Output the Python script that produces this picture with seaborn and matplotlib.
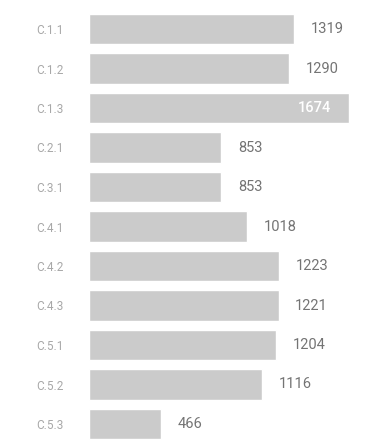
import matplotlib
matplotlib.use("Agg")
import matplotlib.pyplot as plt
import seaborn as sns
import pandas as pd

categories = ["C.1.1", "C.1.2", "C.1.3", "C.2.1", "C.3.1", "C.4.1",
              "C.4.2", "C.4.3", "C.5.1", "C.5.2", "C.5.3"]
values = [1319, 1290, 1674, 853, 853, 1018, 1223, 1221, 1204, 1116, 466]
highlight = "C.1.3"

sns.set_theme(style="white")
plt.rcParams["font.family"] = ["Roboto", "DejaVu Sans"]

df = pd.DataFrame({"category": categories, "value": values})

fig = plt.figure(figsize=(3.66, 4.42), dpi=100)
ax = fig.add_axes([89 / 366, 0, 1 - 89 / 366, 1])

sns.barplot(data=df, x="value", y="category", orient="h", color="#cbcbcb",
            saturation=1, width=0.76, ax=ax)

# px per unit: 260 px for the longest bar
xmax = max(values) * (366 - 89) / 260
ax.set_xlim(0, xmax)
row = 39.5
ax.set_ylim(len(categories) - 1 + (442 - 424) / row, -29 / row)

for i, (cat, v) in enumerate(zip(categories, values)):
    if cat == highlight:
        ax.annotate(f"{v}", xy=(v, i), xytext=(-13, 0), textcoords="offset points",
                    ha="right", va="center", color="white", fontsize=10.5,
                    fontweight="medium")
    else:
        ax.annotate(f"{v}", xy=(v, i), xytext=(12, 0), textcoords="offset points",
                    ha="left", va="center", color="#747474", fontsize=10.5)

ax.set_xlabel("")
ax.set_ylabel("")
ax.set_xticks([])
ax.tick_params(axis="y", length=0, pad=18, labelsize=8.5, labelcolor="#a8a8a8")
for s in ax.spines.values():
    s.set_visible(False)

fig.savefig("out.png", dpi=100)
